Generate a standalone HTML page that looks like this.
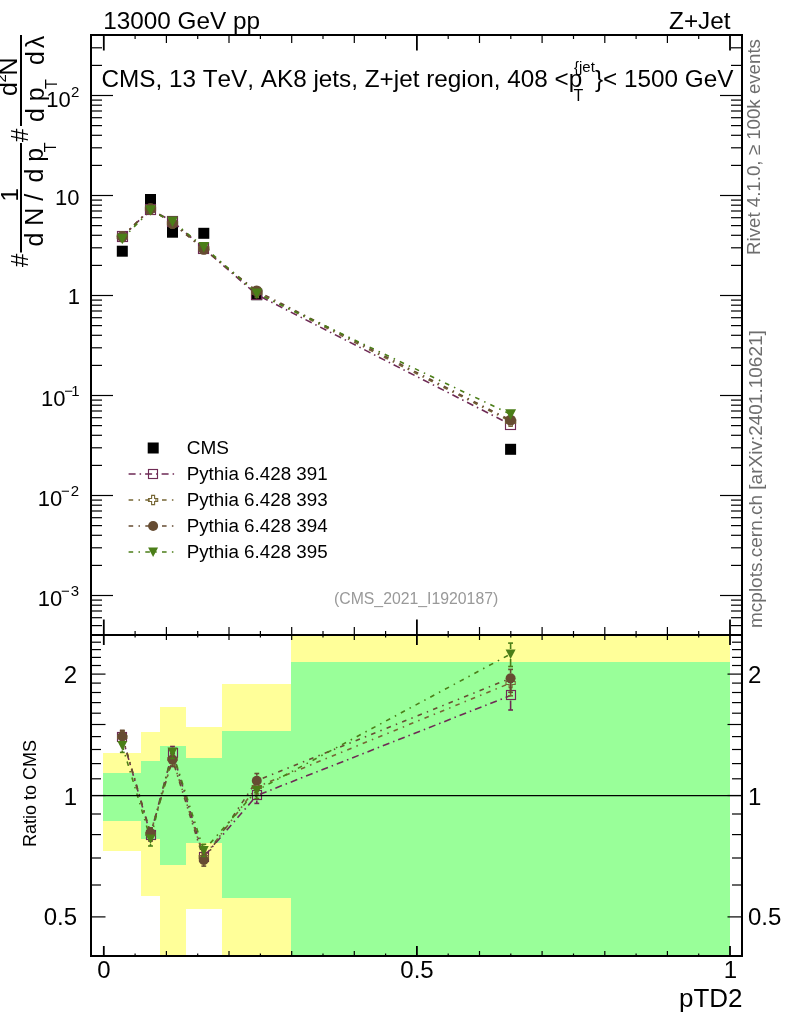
<!DOCTYPE html><html><head><meta charset="utf-8"><title>pTD2 Z+Jet</title>
<style>html,body{margin:0;padding:0;background:#fff;overflow:hidden}svg{display:block;will-change:transform}text{font-family:"Liberation Sans",Arial,Helvetica,sans-serif;font-kerning:none;fill:#000}</style></head><body>
<svg width="786" height="1024" viewBox="0 0 786 1024">
<rect x="0" y="0" width="786" height="1024" fill="#fff"/>
<rect x="103.0" y="753.0" width="38.0" height="98.0" fill="#ffff99" shape-rendering="crispEdges"/>
<rect x="141.0" y="732.0" width="19.0" height="164.0" fill="#ffff99" shape-rendering="crispEdges"/>
<rect x="160.0" y="707.0" width="26.0" height="249.0" fill="#ffff99" shape-rendering="crispEdges"/>
<rect x="186.0" y="727.0" width="36.0" height="182.0" fill="#ffff99" shape-rendering="crispEdges"/>
<rect x="222.0" y="684.0" width="69.0" height="272.0" fill="#ffff99" shape-rendering="crispEdges"/>
<rect x="291.0" y="635.0" width="439.0" height="321.0" fill="#ffff99" shape-rendering="crispEdges"/>
<rect x="103.0" y="773.0" width="38.0" height="48.0" fill="#99ff99" shape-rendering="crispEdges"/>
<rect x="141.0" y="761.0" width="19.0" height="78.0" fill="#99ff99" shape-rendering="crispEdges"/>
<rect x="160.0" y="746.0" width="26.0" height="119.0" fill="#99ff99" shape-rendering="crispEdges"/>
<rect x="186.0" y="758.0" width="36.0" height="85.0" fill="#99ff99" shape-rendering="crispEdges"/>
<rect x="222.0" y="731.0" width="69.0" height="167.0" fill="#99ff99" shape-rendering="crispEdges"/>
<rect x="291.0" y="662.0" width="439.0" height="294.0" fill="#99ff99" shape-rendering="crispEdges"/>
<line x1="103.8" y1="35.0" x2="103.8" y2="50.5" stroke="#000" stroke-width="1.8"/>
<line x1="103.8" y1="635.0" x2="103.8" y2="619.5" stroke="#000" stroke-width="1.8"/>
<line x1="103.8" y1="635.0" x2="103.8" y2="645.0" stroke="#000" stroke-width="1.8"/>
<line x1="103.8" y1="956.0" x2="103.8" y2="946.0" stroke="#000" stroke-width="1.8"/>
<line x1="135.1" y1="35.0" x2="135.1" y2="39.0" stroke="#000" stroke-width="1.2"/>
<line x1="135.1" y1="635.0" x2="135.1" y2="631.0" stroke="#000" stroke-width="1.2"/>
<line x1="135.1" y1="635.0" x2="135.1" y2="637.5" stroke="#000" stroke-width="1.2"/>
<line x1="135.1" y1="956.0" x2="135.1" y2="953.5" stroke="#000" stroke-width="1.2"/>
<line x1="166.4" y1="35.0" x2="166.4" y2="43.0" stroke="#000" stroke-width="1.2"/>
<line x1="166.4" y1="635.0" x2="166.4" y2="627.0" stroke="#000" stroke-width="1.2"/>
<line x1="166.4" y1="635.0" x2="166.4" y2="640.0" stroke="#000" stroke-width="1.2"/>
<line x1="166.4" y1="956.0" x2="166.4" y2="951.0" stroke="#000" stroke-width="1.2"/>
<line x1="197.7" y1="35.0" x2="197.7" y2="39.0" stroke="#000" stroke-width="1.2"/>
<line x1="197.7" y1="635.0" x2="197.7" y2="631.0" stroke="#000" stroke-width="1.2"/>
<line x1="197.7" y1="635.0" x2="197.7" y2="637.5" stroke="#000" stroke-width="1.2"/>
<line x1="197.7" y1="956.0" x2="197.7" y2="953.5" stroke="#000" stroke-width="1.2"/>
<line x1="229.0" y1="35.0" x2="229.0" y2="43.0" stroke="#000" stroke-width="1.2"/>
<line x1="229.0" y1="635.0" x2="229.0" y2="627.0" stroke="#000" stroke-width="1.2"/>
<line x1="229.0" y1="635.0" x2="229.0" y2="640.0" stroke="#000" stroke-width="1.2"/>
<line x1="229.0" y1="956.0" x2="229.0" y2="951.0" stroke="#000" stroke-width="1.2"/>
<line x1="260.4" y1="35.0" x2="260.4" y2="39.0" stroke="#000" stroke-width="1.2"/>
<line x1="260.4" y1="635.0" x2="260.4" y2="631.0" stroke="#000" stroke-width="1.2"/>
<line x1="260.4" y1="635.0" x2="260.4" y2="637.5" stroke="#000" stroke-width="1.2"/>
<line x1="260.4" y1="956.0" x2="260.4" y2="953.5" stroke="#000" stroke-width="1.2"/>
<line x1="291.7" y1="35.0" x2="291.7" y2="43.0" stroke="#000" stroke-width="1.2"/>
<line x1="291.7" y1="635.0" x2="291.7" y2="627.0" stroke="#000" stroke-width="1.2"/>
<line x1="291.7" y1="635.0" x2="291.7" y2="640.0" stroke="#000" stroke-width="1.2"/>
<line x1="291.7" y1="956.0" x2="291.7" y2="951.0" stroke="#000" stroke-width="1.2"/>
<line x1="323.0" y1="35.0" x2="323.0" y2="39.0" stroke="#000" stroke-width="1.2"/>
<line x1="323.0" y1="635.0" x2="323.0" y2="631.0" stroke="#000" stroke-width="1.2"/>
<line x1="323.0" y1="635.0" x2="323.0" y2="637.5" stroke="#000" stroke-width="1.2"/>
<line x1="323.0" y1="956.0" x2="323.0" y2="953.5" stroke="#000" stroke-width="1.2"/>
<line x1="354.3" y1="35.0" x2="354.3" y2="43.0" stroke="#000" stroke-width="1.2"/>
<line x1="354.3" y1="635.0" x2="354.3" y2="627.0" stroke="#000" stroke-width="1.2"/>
<line x1="354.3" y1="635.0" x2="354.3" y2="640.0" stroke="#000" stroke-width="1.2"/>
<line x1="354.3" y1="956.0" x2="354.3" y2="951.0" stroke="#000" stroke-width="1.2"/>
<line x1="385.6" y1="35.0" x2="385.6" y2="39.0" stroke="#000" stroke-width="1.2"/>
<line x1="385.6" y1="635.0" x2="385.6" y2="631.0" stroke="#000" stroke-width="1.2"/>
<line x1="385.6" y1="635.0" x2="385.6" y2="637.5" stroke="#000" stroke-width="1.2"/>
<line x1="385.6" y1="956.0" x2="385.6" y2="953.5" stroke="#000" stroke-width="1.2"/>
<line x1="416.9" y1="35.0" x2="416.9" y2="50.5" stroke="#000" stroke-width="1.8"/>
<line x1="416.9" y1="635.0" x2="416.9" y2="619.5" stroke="#000" stroke-width="1.8"/>
<line x1="416.9" y1="635.0" x2="416.9" y2="645.0" stroke="#000" stroke-width="1.8"/>
<line x1="416.9" y1="956.0" x2="416.9" y2="946.0" stroke="#000" stroke-width="1.8"/>
<line x1="448.2" y1="35.0" x2="448.2" y2="39.0" stroke="#000" stroke-width="1.2"/>
<line x1="448.2" y1="635.0" x2="448.2" y2="631.0" stroke="#000" stroke-width="1.2"/>
<line x1="448.2" y1="635.0" x2="448.2" y2="637.5" stroke="#000" stroke-width="1.2"/>
<line x1="448.2" y1="956.0" x2="448.2" y2="953.5" stroke="#000" stroke-width="1.2"/>
<line x1="479.5" y1="35.0" x2="479.5" y2="43.0" stroke="#000" stroke-width="1.2"/>
<line x1="479.5" y1="635.0" x2="479.5" y2="627.0" stroke="#000" stroke-width="1.2"/>
<line x1="479.5" y1="635.0" x2="479.5" y2="640.0" stroke="#000" stroke-width="1.2"/>
<line x1="479.5" y1="956.0" x2="479.5" y2="951.0" stroke="#000" stroke-width="1.2"/>
<line x1="510.8" y1="35.0" x2="510.8" y2="39.0" stroke="#000" stroke-width="1.2"/>
<line x1="510.8" y1="635.0" x2="510.8" y2="631.0" stroke="#000" stroke-width="1.2"/>
<line x1="510.8" y1="635.0" x2="510.8" y2="637.5" stroke="#000" stroke-width="1.2"/>
<line x1="510.8" y1="956.0" x2="510.8" y2="953.5" stroke="#000" stroke-width="1.2"/>
<line x1="542.1" y1="35.0" x2="542.1" y2="43.0" stroke="#000" stroke-width="1.2"/>
<line x1="542.1" y1="635.0" x2="542.1" y2="627.0" stroke="#000" stroke-width="1.2"/>
<line x1="542.1" y1="635.0" x2="542.1" y2="640.0" stroke="#000" stroke-width="1.2"/>
<line x1="542.1" y1="956.0" x2="542.1" y2="951.0" stroke="#000" stroke-width="1.2"/>
<line x1="573.5" y1="35.0" x2="573.5" y2="39.0" stroke="#000" stroke-width="1.2"/>
<line x1="573.5" y1="635.0" x2="573.5" y2="631.0" stroke="#000" stroke-width="1.2"/>
<line x1="573.5" y1="635.0" x2="573.5" y2="637.5" stroke="#000" stroke-width="1.2"/>
<line x1="573.5" y1="956.0" x2="573.5" y2="953.5" stroke="#000" stroke-width="1.2"/>
<line x1="604.8" y1="35.0" x2="604.8" y2="43.0" stroke="#000" stroke-width="1.2"/>
<line x1="604.8" y1="635.0" x2="604.8" y2="627.0" stroke="#000" stroke-width="1.2"/>
<line x1="604.8" y1="635.0" x2="604.8" y2="640.0" stroke="#000" stroke-width="1.2"/>
<line x1="604.8" y1="956.0" x2="604.8" y2="951.0" stroke="#000" stroke-width="1.2"/>
<line x1="636.1" y1="35.0" x2="636.1" y2="39.0" stroke="#000" stroke-width="1.2"/>
<line x1="636.1" y1="635.0" x2="636.1" y2="631.0" stroke="#000" stroke-width="1.2"/>
<line x1="636.1" y1="635.0" x2="636.1" y2="637.5" stroke="#000" stroke-width="1.2"/>
<line x1="636.1" y1="956.0" x2="636.1" y2="953.5" stroke="#000" stroke-width="1.2"/>
<line x1="667.4" y1="35.0" x2="667.4" y2="43.0" stroke="#000" stroke-width="1.2"/>
<line x1="667.4" y1="635.0" x2="667.4" y2="627.0" stroke="#000" stroke-width="1.2"/>
<line x1="667.4" y1="635.0" x2="667.4" y2="640.0" stroke="#000" stroke-width="1.2"/>
<line x1="667.4" y1="956.0" x2="667.4" y2="951.0" stroke="#000" stroke-width="1.2"/>
<line x1="698.7" y1="35.0" x2="698.7" y2="39.0" stroke="#000" stroke-width="1.2"/>
<line x1="698.7" y1="635.0" x2="698.7" y2="631.0" stroke="#000" stroke-width="1.2"/>
<line x1="698.7" y1="635.0" x2="698.7" y2="637.5" stroke="#000" stroke-width="1.2"/>
<line x1="698.7" y1="956.0" x2="698.7" y2="953.5" stroke="#000" stroke-width="1.2"/>
<line x1="730.0" y1="35.0" x2="730.0" y2="50.5" stroke="#000" stroke-width="1.8"/>
<line x1="730.0" y1="635.0" x2="730.0" y2="619.5" stroke="#000" stroke-width="1.8"/>
<line x1="730.0" y1="635.0" x2="730.0" y2="645.0" stroke="#000" stroke-width="1.8"/>
<line x1="730.0" y1="956.0" x2="730.0" y2="946.0" stroke="#000" stroke-width="1.8"/>
<line x1="91.0" y1="625.6" x2="102.0" y2="625.6" stroke="#000" stroke-width="1.2"/>
<line x1="742.0" y1="625.6" x2="731.0" y2="625.6" stroke="#000" stroke-width="1.2"/>
<line x1="91.0" y1="617.7" x2="102.0" y2="617.7" stroke="#000" stroke-width="1.2"/>
<line x1="742.0" y1="617.7" x2="731.0" y2="617.7" stroke="#000" stroke-width="1.2"/>
<line x1="91.0" y1="611.0" x2="102.0" y2="611.0" stroke="#000" stroke-width="1.2"/>
<line x1="742.0" y1="611.0" x2="731.0" y2="611.0" stroke="#000" stroke-width="1.2"/>
<line x1="91.0" y1="605.2" x2="102.0" y2="605.2" stroke="#000" stroke-width="1.2"/>
<line x1="742.0" y1="605.2" x2="731.0" y2="605.2" stroke="#000" stroke-width="1.2"/>
<line x1="91.0" y1="600.1" x2="102.0" y2="600.1" stroke="#000" stroke-width="1.2"/>
<line x1="742.0" y1="600.1" x2="731.0" y2="600.1" stroke="#000" stroke-width="1.2"/>
<line x1="91.0" y1="595.5" x2="113.0" y2="595.5" stroke="#000" stroke-width="1.2"/>
<line x1="742.0" y1="595.5" x2="720.0" y2="595.5" stroke="#000" stroke-width="1.2"/>
<line x1="91.0" y1="565.4" x2="102.0" y2="565.4" stroke="#000" stroke-width="1.2"/>
<line x1="742.0" y1="565.4" x2="731.0" y2="565.4" stroke="#000" stroke-width="1.2"/>
<line x1="91.0" y1="547.8" x2="102.0" y2="547.8" stroke="#000" stroke-width="1.2"/>
<line x1="742.0" y1="547.8" x2="731.0" y2="547.8" stroke="#000" stroke-width="1.2"/>
<line x1="91.0" y1="535.3" x2="102.0" y2="535.3" stroke="#000" stroke-width="1.2"/>
<line x1="742.0" y1="535.3" x2="731.0" y2="535.3" stroke="#000" stroke-width="1.2"/>
<line x1="91.0" y1="525.6" x2="102.0" y2="525.6" stroke="#000" stroke-width="1.2"/>
<line x1="742.0" y1="525.6" x2="731.0" y2="525.6" stroke="#000" stroke-width="1.2"/>
<line x1="91.0" y1="517.7" x2="102.0" y2="517.7" stroke="#000" stroke-width="1.2"/>
<line x1="742.0" y1="517.7" x2="731.0" y2="517.7" stroke="#000" stroke-width="1.2"/>
<line x1="91.0" y1="511.0" x2="102.0" y2="511.0" stroke="#000" stroke-width="1.2"/>
<line x1="742.0" y1="511.0" x2="731.0" y2="511.0" stroke="#000" stroke-width="1.2"/>
<line x1="91.0" y1="505.2" x2="102.0" y2="505.2" stroke="#000" stroke-width="1.2"/>
<line x1="742.0" y1="505.2" x2="731.0" y2="505.2" stroke="#000" stroke-width="1.2"/>
<line x1="91.0" y1="500.1" x2="102.0" y2="500.1" stroke="#000" stroke-width="1.2"/>
<line x1="742.0" y1="500.1" x2="731.0" y2="500.1" stroke="#000" stroke-width="1.2"/>
<line x1="91.0" y1="495.5" x2="113.0" y2="495.5" stroke="#000" stroke-width="1.2"/>
<line x1="742.0" y1="495.5" x2="720.0" y2="495.5" stroke="#000" stroke-width="1.2"/>
<line x1="91.0" y1="465.4" x2="102.0" y2="465.4" stroke="#000" stroke-width="1.2"/>
<line x1="742.0" y1="465.4" x2="731.0" y2="465.4" stroke="#000" stroke-width="1.2"/>
<line x1="91.0" y1="447.8" x2="102.0" y2="447.8" stroke="#000" stroke-width="1.2"/>
<line x1="742.0" y1="447.8" x2="731.0" y2="447.8" stroke="#000" stroke-width="1.2"/>
<line x1="91.0" y1="435.3" x2="102.0" y2="435.3" stroke="#000" stroke-width="1.2"/>
<line x1="742.0" y1="435.3" x2="731.0" y2="435.3" stroke="#000" stroke-width="1.2"/>
<line x1="91.0" y1="425.6" x2="102.0" y2="425.6" stroke="#000" stroke-width="1.2"/>
<line x1="742.0" y1="425.6" x2="731.0" y2="425.6" stroke="#000" stroke-width="1.2"/>
<line x1="91.0" y1="417.7" x2="102.0" y2="417.7" stroke="#000" stroke-width="1.2"/>
<line x1="742.0" y1="417.7" x2="731.0" y2="417.7" stroke="#000" stroke-width="1.2"/>
<line x1="91.0" y1="411.0" x2="102.0" y2="411.0" stroke="#000" stroke-width="1.2"/>
<line x1="742.0" y1="411.0" x2="731.0" y2="411.0" stroke="#000" stroke-width="1.2"/>
<line x1="91.0" y1="405.2" x2="102.0" y2="405.2" stroke="#000" stroke-width="1.2"/>
<line x1="742.0" y1="405.2" x2="731.0" y2="405.2" stroke="#000" stroke-width="1.2"/>
<line x1="91.0" y1="400.1" x2="102.0" y2="400.1" stroke="#000" stroke-width="1.2"/>
<line x1="742.0" y1="400.1" x2="731.0" y2="400.1" stroke="#000" stroke-width="1.2"/>
<line x1="91.0" y1="395.5" x2="113.0" y2="395.5" stroke="#000" stroke-width="1.2"/>
<line x1="742.0" y1="395.5" x2="720.0" y2="395.5" stroke="#000" stroke-width="1.2"/>
<line x1="91.0" y1="365.4" x2="102.0" y2="365.4" stroke="#000" stroke-width="1.2"/>
<line x1="742.0" y1="365.4" x2="731.0" y2="365.4" stroke="#000" stroke-width="1.2"/>
<line x1="91.0" y1="347.8" x2="102.0" y2="347.8" stroke="#000" stroke-width="1.2"/>
<line x1="742.0" y1="347.8" x2="731.0" y2="347.8" stroke="#000" stroke-width="1.2"/>
<line x1="91.0" y1="335.3" x2="102.0" y2="335.3" stroke="#000" stroke-width="1.2"/>
<line x1="742.0" y1="335.3" x2="731.0" y2="335.3" stroke="#000" stroke-width="1.2"/>
<line x1="91.0" y1="325.6" x2="102.0" y2="325.6" stroke="#000" stroke-width="1.2"/>
<line x1="742.0" y1="325.6" x2="731.0" y2="325.6" stroke="#000" stroke-width="1.2"/>
<line x1="91.0" y1="317.7" x2="102.0" y2="317.7" stroke="#000" stroke-width="1.2"/>
<line x1="742.0" y1="317.7" x2="731.0" y2="317.7" stroke="#000" stroke-width="1.2"/>
<line x1="91.0" y1="311.0" x2="102.0" y2="311.0" stroke="#000" stroke-width="1.2"/>
<line x1="742.0" y1="311.0" x2="731.0" y2="311.0" stroke="#000" stroke-width="1.2"/>
<line x1="91.0" y1="305.2" x2="102.0" y2="305.2" stroke="#000" stroke-width="1.2"/>
<line x1="742.0" y1="305.2" x2="731.0" y2="305.2" stroke="#000" stroke-width="1.2"/>
<line x1="91.0" y1="300.1" x2="102.0" y2="300.1" stroke="#000" stroke-width="1.2"/>
<line x1="742.0" y1="300.1" x2="731.0" y2="300.1" stroke="#000" stroke-width="1.2"/>
<line x1="91.0" y1="295.5" x2="113.0" y2="295.5" stroke="#000" stroke-width="1.2"/>
<line x1="742.0" y1="295.5" x2="720.0" y2="295.5" stroke="#000" stroke-width="1.2"/>
<line x1="91.0" y1="265.4" x2="102.0" y2="265.4" stroke="#000" stroke-width="1.2"/>
<line x1="742.0" y1="265.4" x2="731.0" y2="265.4" stroke="#000" stroke-width="1.2"/>
<line x1="91.0" y1="247.8" x2="102.0" y2="247.8" stroke="#000" stroke-width="1.2"/>
<line x1="742.0" y1="247.8" x2="731.0" y2="247.8" stroke="#000" stroke-width="1.2"/>
<line x1="91.0" y1="235.3" x2="102.0" y2="235.3" stroke="#000" stroke-width="1.2"/>
<line x1="742.0" y1="235.3" x2="731.0" y2="235.3" stroke="#000" stroke-width="1.2"/>
<line x1="91.0" y1="225.6" x2="102.0" y2="225.6" stroke="#000" stroke-width="1.2"/>
<line x1="742.0" y1="225.6" x2="731.0" y2="225.6" stroke="#000" stroke-width="1.2"/>
<line x1="91.0" y1="217.7" x2="102.0" y2="217.7" stroke="#000" stroke-width="1.2"/>
<line x1="742.0" y1="217.7" x2="731.0" y2="217.7" stroke="#000" stroke-width="1.2"/>
<line x1="91.0" y1="211.0" x2="102.0" y2="211.0" stroke="#000" stroke-width="1.2"/>
<line x1="742.0" y1="211.0" x2="731.0" y2="211.0" stroke="#000" stroke-width="1.2"/>
<line x1="91.0" y1="205.2" x2="102.0" y2="205.2" stroke="#000" stroke-width="1.2"/>
<line x1="742.0" y1="205.2" x2="731.0" y2="205.2" stroke="#000" stroke-width="1.2"/>
<line x1="91.0" y1="200.1" x2="102.0" y2="200.1" stroke="#000" stroke-width="1.2"/>
<line x1="742.0" y1="200.1" x2="731.0" y2="200.1" stroke="#000" stroke-width="1.2"/>
<line x1="91.0" y1="195.5" x2="113.0" y2="195.5" stroke="#000" stroke-width="1.2"/>
<line x1="742.0" y1="195.5" x2="720.0" y2="195.5" stroke="#000" stroke-width="1.2"/>
<line x1="91.0" y1="165.4" x2="102.0" y2="165.4" stroke="#000" stroke-width="1.2"/>
<line x1="742.0" y1="165.4" x2="731.0" y2="165.4" stroke="#000" stroke-width="1.2"/>
<line x1="91.0" y1="147.8" x2="102.0" y2="147.8" stroke="#000" stroke-width="1.2"/>
<line x1="742.0" y1="147.8" x2="731.0" y2="147.8" stroke="#000" stroke-width="1.2"/>
<line x1="91.0" y1="135.3" x2="102.0" y2="135.3" stroke="#000" stroke-width="1.2"/>
<line x1="742.0" y1="135.3" x2="731.0" y2="135.3" stroke="#000" stroke-width="1.2"/>
<line x1="91.0" y1="125.6" x2="102.0" y2="125.6" stroke="#000" stroke-width="1.2"/>
<line x1="742.0" y1="125.6" x2="731.0" y2="125.6" stroke="#000" stroke-width="1.2"/>
<line x1="91.0" y1="117.7" x2="102.0" y2="117.7" stroke="#000" stroke-width="1.2"/>
<line x1="742.0" y1="117.7" x2="731.0" y2="117.7" stroke="#000" stroke-width="1.2"/>
<line x1="91.0" y1="111.0" x2="102.0" y2="111.0" stroke="#000" stroke-width="1.2"/>
<line x1="742.0" y1="111.0" x2="731.0" y2="111.0" stroke="#000" stroke-width="1.2"/>
<line x1="91.0" y1="105.2" x2="102.0" y2="105.2" stroke="#000" stroke-width="1.2"/>
<line x1="742.0" y1="105.2" x2="731.0" y2="105.2" stroke="#000" stroke-width="1.2"/>
<line x1="91.0" y1="100.1" x2="102.0" y2="100.1" stroke="#000" stroke-width="1.2"/>
<line x1="742.0" y1="100.1" x2="731.0" y2="100.1" stroke="#000" stroke-width="1.2"/>
<line x1="91.0" y1="95.5" x2="113.0" y2="95.5" stroke="#000" stroke-width="1.2"/>
<line x1="742.0" y1="95.5" x2="720.0" y2="95.5" stroke="#000" stroke-width="1.2"/>
<line x1="91.0" y1="65.4" x2="102.0" y2="65.4" stroke="#000" stroke-width="1.2"/>
<line x1="742.0" y1="65.4" x2="731.0" y2="65.4" stroke="#000" stroke-width="1.2"/>
<line x1="91.0" y1="47.8" x2="102.0" y2="47.8" stroke="#000" stroke-width="1.2"/>
<line x1="742.0" y1="47.8" x2="731.0" y2="47.8" stroke="#000" stroke-width="1.2"/>
<line x1="91.0" y1="916.9" x2="105.5" y2="916.9" stroke="#000" stroke-width="1.2"/>
<line x1="742.0" y1="916.9" x2="727.5" y2="916.9" stroke="#000" stroke-width="1.2"/>
<line x1="91.0" y1="885.0" x2="101.0" y2="885.0" stroke="#000" stroke-width="1.2"/>
<line x1="742.0" y1="885.0" x2="732.0" y2="885.0" stroke="#000" stroke-width="1.2"/>
<line x1="91.0" y1="858.0" x2="101.0" y2="858.0" stroke="#000" stroke-width="1.2"/>
<line x1="742.0" y1="858.0" x2="732.0" y2="858.0" stroke="#000" stroke-width="1.2"/>
<line x1="91.0" y1="834.6" x2="101.0" y2="834.6" stroke="#000" stroke-width="1.2"/>
<line x1="742.0" y1="834.6" x2="732.0" y2="834.6" stroke="#000" stroke-width="1.2"/>
<line x1="91.0" y1="814.0" x2="101.0" y2="814.0" stroke="#000" stroke-width="1.2"/>
<line x1="742.0" y1="814.0" x2="732.0" y2="814.0" stroke="#000" stroke-width="1.2"/>
<line x1="91.0" y1="795.5" x2="105.5" y2="795.5" stroke="#000" stroke-width="1.2"/>
<line x1="742.0" y1="795.5" x2="727.5" y2="795.5" stroke="#000" stroke-width="1.2"/>
<line x1="91.0" y1="778.8" x2="101.0" y2="778.8" stroke="#000" stroke-width="1.2"/>
<line x1="742.0" y1="778.8" x2="732.0" y2="778.8" stroke="#000" stroke-width="1.2"/>
<line x1="91.0" y1="763.6" x2="101.0" y2="763.6" stroke="#000" stroke-width="1.2"/>
<line x1="742.0" y1="763.6" x2="732.0" y2="763.6" stroke="#000" stroke-width="1.2"/>
<line x1="91.0" y1="749.5" x2="101.0" y2="749.5" stroke="#000" stroke-width="1.2"/>
<line x1="742.0" y1="749.5" x2="732.0" y2="749.5" stroke="#000" stroke-width="1.2"/>
<line x1="91.0" y1="736.6" x2="101.0" y2="736.6" stroke="#000" stroke-width="1.2"/>
<line x1="742.0" y1="736.6" x2="732.0" y2="736.6" stroke="#000" stroke-width="1.2"/>
<line x1="91.0" y1="724.5" x2="105.5" y2="724.5" stroke="#000" stroke-width="1.2"/>
<line x1="742.0" y1="724.5" x2="727.5" y2="724.5" stroke="#000" stroke-width="1.2"/>
<line x1="91.0" y1="713.2" x2="101.0" y2="713.2" stroke="#000" stroke-width="1.2"/>
<line x1="742.0" y1="713.2" x2="732.0" y2="713.2" stroke="#000" stroke-width="1.2"/>
<line x1="91.0" y1="702.6" x2="101.0" y2="702.6" stroke="#000" stroke-width="1.2"/>
<line x1="742.0" y1="702.6" x2="732.0" y2="702.6" stroke="#000" stroke-width="1.2"/>
<line x1="91.0" y1="692.5" x2="101.0" y2="692.5" stroke="#000" stroke-width="1.2"/>
<line x1="742.0" y1="692.5" x2="732.0" y2="692.5" stroke="#000" stroke-width="1.2"/>
<line x1="91.0" y1="683.1" x2="101.0" y2="683.1" stroke="#000" stroke-width="1.2"/>
<line x1="742.0" y1="683.1" x2="732.0" y2="683.1" stroke="#000" stroke-width="1.2"/>
<line x1="91.0" y1="674.1" x2="105.5" y2="674.1" stroke="#000" stroke-width="1.2"/>
<line x1="742.0" y1="674.1" x2="727.5" y2="674.1" stroke="#000" stroke-width="1.2"/>
<line x1="91.0" y1="665.5" x2="101.0" y2="665.5" stroke="#000" stroke-width="1.2"/>
<line x1="742.0" y1="665.5" x2="732.0" y2="665.5" stroke="#000" stroke-width="1.2"/>
<line x1="91.0" y1="657.4" x2="101.0" y2="657.4" stroke="#000" stroke-width="1.2"/>
<line x1="742.0" y1="657.4" x2="732.0" y2="657.4" stroke="#000" stroke-width="1.2"/>
<line x1="91.0" y1="649.6" x2="101.0" y2="649.6" stroke="#000" stroke-width="1.2"/>
<line x1="742.0" y1="649.6" x2="732.0" y2="649.6" stroke="#000" stroke-width="1.2"/>
<line x1="91.0" y1="642.2" x2="101.0" y2="642.2" stroke="#000" stroke-width="1.2"/>
<line x1="742.0" y1="642.2" x2="732.0" y2="642.2" stroke="#000" stroke-width="1.2"/>
<rect x="91.0" y="35.0" width="651.0" height="600.0" fill="none" stroke="#000" stroke-width="2"/>
<rect x="91.0" y="635.0" width="651.0" height="321.0" fill="none" stroke="#000" stroke-width="2"/>
<rect x="116.8" y="245.7" width="11" height="11" fill="#000"/>
<rect x="145.0" y="194.0" width="11" height="11" fill="#000"/>
<rect x="167.0" y="226.7" width="11" height="11" fill="#000"/>
<rect x="198.3" y="227.8" width="11" height="11" fill="#000"/>
<rect x="251.3" y="289.2" width="11" height="11" fill="#000"/>
<rect x="505.1" y="443.8" width="11" height="11" fill="#000"/>
<polyline points="122.3,236.8 150.5,209.2 172.5,221.5 203.8,248.5 256.8,294.7 510.6,424.5" fill="none" stroke="#6e2a55" stroke-width="1.6" stroke-dasharray="7 4 1.5 4"/>
<polyline points="122.3,236.7 150.5,209.0 172.5,223.1 203.8,248.5 256.8,292.6 510.6,421.4" fill="none" stroke="#766634" stroke-width="1.6" stroke-dasharray="4.6 5.3 1.5 5.3"/>
<polyline points="122.3,236.6 150.5,208.8 172.5,223.3 203.8,249.3 256.8,291.0 510.6,420.2" fill="none" stroke="#664c32" stroke-width="1.6" stroke-dasharray="4.6 5.3 1.5 5.3"/>
<polyline points="122.3,238.8 150.5,210.3 172.5,221.4 203.8,246.9 256.8,293.4 510.6,414.2" fill="none" stroke="#4b7e18" stroke-width="1.6" stroke-dasharray="4.6 5.3 1.5 5.3"/>
<rect x="117.5" y="231.5" width="10" height="10" fill="none" stroke="#6e2a55" stroke-width="1.15"/>
<rect x="145.5" y="204.5" width="10" height="10" fill="none" stroke="#6e2a55" stroke-width="1.15"/>
<rect x="167.5" y="216.5" width="10" height="10" fill="none" stroke="#6e2a55" stroke-width="1.15"/>
<rect x="198.5" y="243.5" width="10" height="10" fill="none" stroke="#6e2a55" stroke-width="1.15"/>
<rect x="251.5" y="289.5" width="10" height="10" fill="none" stroke="#6e2a55" stroke-width="1.15"/>
<rect x="505.5" y="419.5" width="10" height="10" fill="none" stroke="#6e2a55" stroke-width="1.15"/>
<polygon points="120.6,231.6 124.0,231.6 124.0,235.0 127.4,235.0 127.4,238.4 124.0,238.4 124.0,241.8 120.6,241.8 120.6,238.4 117.2,238.4 117.2,235.0 120.6,235.0" fill="none" stroke="#766634" stroke-width="1.1"/>
<polygon points="148.8,204.0 152.2,204.0 152.2,207.4 155.6,207.4 155.6,210.7 152.2,210.7 152.2,214.1 148.8,214.1 148.8,210.7 145.4,210.7 145.4,207.4 148.8,207.4" fill="none" stroke="#766634" stroke-width="1.1"/>
<polygon points="170.8,218.1 174.2,218.1 174.2,221.5 177.6,221.5 177.6,224.8 174.2,224.8 174.2,228.2 170.8,228.2 170.8,224.8 167.4,224.8 167.4,221.5 170.8,221.5" fill="none" stroke="#766634" stroke-width="1.1"/>
<polygon points="202.1,243.5 205.5,243.5 205.5,246.9 208.9,246.9 208.9,250.2 205.5,250.2 205.5,253.6 202.1,253.6 202.1,250.2 198.7,250.2 198.7,246.9 202.1,246.9" fill="none" stroke="#766634" stroke-width="1.1"/>
<polygon points="255.1,287.5 258.5,287.5 258.5,290.9 261.9,290.9 261.9,294.3 258.5,294.3 258.5,297.7 255.1,297.7 255.1,294.3 251.7,294.3 251.7,290.9 255.1,290.9" fill="none" stroke="#766634" stroke-width="1.1"/>
<polygon points="508.9,416.3 512.3,416.3 512.3,419.7 515.7,419.7 515.7,423.1 512.3,423.1 512.3,426.5 508.9,426.5 508.9,423.1 505.5,423.1 505.5,419.7 508.9,419.7" fill="none" stroke="#766634" stroke-width="1.1"/>
<circle cx="122.3" cy="236.6" r="5.5" fill="#664c32"/>
<circle cx="150.5" cy="208.8" r="5.5" fill="#664c32"/>
<circle cx="172.5" cy="223.3" r="5.5" fill="#664c32"/>
<circle cx="203.8" cy="249.3" r="5.5" fill="#664c32"/>
<circle cx="256.8" cy="291.0" r="5.5" fill="#664c32"/>
<circle cx="510.6" cy="420.2" r="5.5" fill="#664c32"/>
<polygon points="116.8,233.8 127.8,233.8 122.3,244.3" fill="#4b7e18"/>
<polygon points="145.0,205.3 156.0,205.3 150.5,215.8" fill="#4b7e18"/>
<polygon points="167.0,216.4 178.0,216.4 172.5,226.9" fill="#4b7e18"/>
<polygon points="198.3,241.9 209.3,241.9 203.8,252.4" fill="#4b7e18"/>
<polygon points="251.3,288.4 262.3,288.4 256.8,298.9" fill="#4b7e18"/>
<polygon points="505.1,409.2 516.1,409.2 510.6,419.7" fill="#4b7e18"/>
<polyline points="122.3,737.3 150.5,834.5 172.5,752.5 203.8,856.8 256.8,795.5 510.6,695.5" fill="none" stroke="#6e2a55" stroke-width="1.6" stroke-dasharray="7 4 1.5 4"/>
<polyline points="122.3,737.0 150.5,834.0 172.5,759.0 203.8,857.0 256.8,787.0 510.6,683.0" fill="none" stroke="#766634" stroke-width="1.6" stroke-dasharray="4.6 5.3 1.5 5.3"/>
<polyline points="122.3,736.5 150.5,833.0 172.5,759.6 203.8,860.0 256.8,780.7 510.6,678.3" fill="none" stroke="#664c32" stroke-width="1.6" stroke-dasharray="4.6 5.3 1.5 5.3"/>
<polyline points="122.3,745.5 150.5,839.0 172.5,752.0 203.8,850.5 256.8,790.4 510.6,654.0" fill="none" stroke="#4b7e18" stroke-width="1.6" stroke-dasharray="4.6 5.3 1.5 5.3"/>
<line x1="122.3" y1="731.3" x2="122.3" y2="732.3" stroke="#6e2a55" stroke-width="1.6"/>
<line x1="122.3" y1="742.3" x2="122.3" y2="743.8" stroke="#6e2a55" stroke-width="1.6"/>
<line x1="119.9" y1="731.3" x2="124.7" y2="731.3" stroke="#6e2a55" stroke-width="1.6"/>
<line x1="119.9" y1="743.8" x2="124.7" y2="743.8" stroke="#6e2a55" stroke-width="1.6"/>
<rect x="117.5" y="732.5" width="9" height="9" fill="none" stroke="#6e2a55" stroke-width="1.15"/>
<line x1="150.5" y1="828.5" x2="150.5" y2="829.5" stroke="#6e2a55" stroke-width="1.6"/>
<line x1="150.5" y1="839.5" x2="150.5" y2="841.0" stroke="#6e2a55" stroke-width="1.6"/>
<line x1="148.1" y1="828.5" x2="152.9" y2="828.5" stroke="#6e2a55" stroke-width="1.6"/>
<line x1="148.1" y1="841.0" x2="152.9" y2="841.0" stroke="#6e2a55" stroke-width="1.6"/>
<rect x="146.5" y="830.5" width="9" height="9" fill="none" stroke="#6e2a55" stroke-width="1.15"/>
<line x1="172.5" y1="746.5" x2="172.5" y2="747.5" stroke="#6e2a55" stroke-width="1.6"/>
<line x1="172.5" y1="757.5" x2="172.5" y2="759.0" stroke="#6e2a55" stroke-width="1.6"/>
<line x1="170.1" y1="746.5" x2="174.9" y2="746.5" stroke="#6e2a55" stroke-width="1.6"/>
<line x1="170.1" y1="759.0" x2="174.9" y2="759.0" stroke="#6e2a55" stroke-width="1.6"/>
<rect x="168.5" y="748.5" width="9" height="9" fill="none" stroke="#6e2a55" stroke-width="1.15"/>
<line x1="203.8" y1="850.8" x2="203.8" y2="851.8" stroke="#6e2a55" stroke-width="1.6"/>
<line x1="203.8" y1="861.8" x2="203.8" y2="863.3" stroke="#6e2a55" stroke-width="1.6"/>
<line x1="201.4" y1="850.8" x2="206.2" y2="850.8" stroke="#6e2a55" stroke-width="1.6"/>
<line x1="201.4" y1="863.3" x2="206.2" y2="863.3" stroke="#6e2a55" stroke-width="1.6"/>
<rect x="199.5" y="852.5" width="9" height="9" fill="none" stroke="#6e2a55" stroke-width="1.15"/>
<line x1="256.8" y1="789.5" x2="256.8" y2="790.5" stroke="#6e2a55" stroke-width="1.6"/>
<line x1="256.8" y1="800.5" x2="256.8" y2="803.4" stroke="#6e2a55" stroke-width="1.6"/>
<line x1="254.4" y1="789.5" x2="259.2" y2="789.5" stroke="#6e2a55" stroke-width="1.6"/>
<line x1="254.4" y1="803.4" x2="259.2" y2="803.4" stroke="#6e2a55" stroke-width="1.6"/>
<rect x="252.5" y="790.5" width="9" height="9" fill="none" stroke="#6e2a55" stroke-width="1.15"/>
<line x1="510.6" y1="682.1" x2="510.6" y2="690.5" stroke="#6e2a55" stroke-width="1.6"/>
<line x1="510.6" y1="700.5" x2="510.6" y2="710.0" stroke="#6e2a55" stroke-width="1.6"/>
<line x1="508.2" y1="682.1" x2="513.0" y2="682.1" stroke="#6e2a55" stroke-width="1.6"/>
<line x1="508.2" y1="710.0" x2="513.0" y2="710.0" stroke="#6e2a55" stroke-width="1.6"/>
<rect x="506.5" y="690.5" width="9" height="9" fill="none" stroke="#6e2a55" stroke-width="1.15"/>
<line x1="122.3" y1="731.0" x2="122.3" y2="732.0" stroke="#766634" stroke-width="1.6"/>
<line x1="122.3" y1="742.0" x2="122.3" y2="743.5" stroke="#766634" stroke-width="1.6"/>
<line x1="119.9" y1="731.0" x2="124.7" y2="731.0" stroke="#766634" stroke-width="1.6"/>
<line x1="119.9" y1="743.5" x2="124.7" y2="743.5" stroke="#766634" stroke-width="1.6"/>
<polygon points="120.8,732.4 123.8,732.4 123.8,735.5 126.9,735.5 126.9,738.5 123.8,738.5 123.8,741.6 120.8,741.6 120.8,738.5 117.7,738.5 117.7,735.5 120.8,735.5" fill="none" stroke="#766634" stroke-width="1.1"/>
<line x1="150.5" y1="828.0" x2="150.5" y2="829.0" stroke="#766634" stroke-width="1.6"/>
<line x1="150.5" y1="839.0" x2="150.5" y2="840.5" stroke="#766634" stroke-width="1.6"/>
<line x1="148.1" y1="828.0" x2="152.9" y2="828.0" stroke="#766634" stroke-width="1.6"/>
<line x1="148.1" y1="840.5" x2="152.9" y2="840.5" stroke="#766634" stroke-width="1.6"/>
<polygon points="149.0,829.4 152.0,829.4 152.0,832.5 155.1,832.5 155.1,835.5 152.0,835.5 152.0,838.6 149.0,838.6 149.0,835.5 145.9,835.5 145.9,832.5 149.0,832.5" fill="none" stroke="#766634" stroke-width="1.1"/>
<line x1="172.5" y1="753.0" x2="172.5" y2="754.0" stroke="#766634" stroke-width="1.6"/>
<line x1="172.5" y1="764.0" x2="172.5" y2="766.0" stroke="#766634" stroke-width="1.6"/>
<line x1="170.1" y1="753.0" x2="174.9" y2="753.0" stroke="#766634" stroke-width="1.6"/>
<line x1="170.1" y1="766.0" x2="174.9" y2="766.0" stroke="#766634" stroke-width="1.6"/>
<polygon points="171.0,754.4 174.0,754.4 174.0,757.5 177.1,757.5 177.1,760.5 174.0,760.5 174.0,763.6 171.0,763.6 171.0,760.5 167.9,760.5 167.9,757.5 171.0,757.5" fill="none" stroke="#766634" stroke-width="1.1"/>
<line x1="203.8" y1="851.0" x2="203.8" y2="852.0" stroke="#766634" stroke-width="1.6"/>
<line x1="203.8" y1="862.0" x2="203.8" y2="863.5" stroke="#766634" stroke-width="1.6"/>
<line x1="201.4" y1="851.0" x2="206.2" y2="851.0" stroke="#766634" stroke-width="1.6"/>
<line x1="201.4" y1="863.5" x2="206.2" y2="863.5" stroke="#766634" stroke-width="1.6"/>
<polygon points="202.3,852.4 205.3,852.4 205.3,855.5 208.4,855.5 208.4,858.5 205.3,858.5 205.3,861.6 202.3,861.6 202.3,858.5 199.2,858.5 199.2,855.5 202.3,855.5" fill="none" stroke="#766634" stroke-width="1.1"/>
<line x1="256.8" y1="781.0" x2="256.8" y2="782.0" stroke="#766634" stroke-width="1.6"/>
<line x1="256.8" y1="792.0" x2="256.8" y2="794.0" stroke="#766634" stroke-width="1.6"/>
<line x1="254.4" y1="781.0" x2="259.2" y2="781.0" stroke="#766634" stroke-width="1.6"/>
<line x1="254.4" y1="794.0" x2="259.2" y2="794.0" stroke="#766634" stroke-width="1.6"/>
<polygon points="255.3,782.4 258.3,782.4 258.3,785.5 261.4,785.5 261.4,788.5 258.3,788.5 258.3,791.6 255.3,791.6 255.3,788.5 252.2,788.5 252.2,785.5 255.3,785.5" fill="none" stroke="#766634" stroke-width="1.1"/>
<line x1="510.6" y1="676.0" x2="510.6" y2="678.0" stroke="#766634" stroke-width="1.6"/>
<line x1="510.6" y1="688.0" x2="510.6" y2="695.8" stroke="#766634" stroke-width="1.6"/>
<line x1="508.2" y1="676.0" x2="513.0" y2="676.0" stroke="#766634" stroke-width="1.6"/>
<line x1="508.2" y1="695.8" x2="513.0" y2="695.8" stroke="#766634" stroke-width="1.6"/>
<polygon points="509.1,678.4 512.1,678.4 512.1,681.5 515.2,681.5 515.2,684.5 512.1,684.5 512.1,687.6 509.1,687.6 509.1,684.5 506.0,684.5 506.0,681.5 509.1,681.5" fill="none" stroke="#766634" stroke-width="1.1"/>
<line x1="122.3" y1="730.3" x2="122.3" y2="731.5" stroke="#664c32" stroke-width="1.6"/>
<line x1="122.3" y1="741.5" x2="122.3" y2="743.0" stroke="#664c32" stroke-width="1.6"/>
<line x1="119.9" y1="730.3" x2="124.7" y2="730.3" stroke="#664c32" stroke-width="1.6"/>
<line x1="119.9" y1="743.0" x2="124.7" y2="743.0" stroke="#664c32" stroke-width="1.6"/>
<circle cx="122.3" cy="736.5" r="5.0" fill="#664c32"/>
<line x1="150.5" y1="838.0" x2="150.5" y2="839.5" stroke="#664c32" stroke-width="1.6"/>
<line x1="148.1" y1="827.9" x2="152.9" y2="827.9" stroke="#664c32" stroke-width="1.6"/>
<line x1="148.1" y1="839.5" x2="152.9" y2="839.5" stroke="#664c32" stroke-width="1.6"/>
<circle cx="150.5" cy="833.0" r="5.0" fill="#664c32"/>
<line x1="172.5" y1="753.6" x2="172.5" y2="754.6" stroke="#664c32" stroke-width="1.6"/>
<line x1="172.5" y1="764.6" x2="172.5" y2="766.6" stroke="#664c32" stroke-width="1.6"/>
<line x1="170.1" y1="753.6" x2="174.9" y2="753.6" stroke="#664c32" stroke-width="1.6"/>
<line x1="170.1" y1="766.6" x2="174.9" y2="766.6" stroke="#664c32" stroke-width="1.6"/>
<circle cx="172.5" cy="759.6" r="5.0" fill="#664c32"/>
<line x1="203.8" y1="854.0" x2="203.8" y2="855.0" stroke="#664c32" stroke-width="1.6"/>
<line x1="203.8" y1="865.0" x2="203.8" y2="866.1" stroke="#664c32" stroke-width="1.6"/>
<line x1="201.4" y1="854.0" x2="206.2" y2="854.0" stroke="#664c32" stroke-width="1.6"/>
<line x1="201.4" y1="866.1" x2="206.2" y2="866.1" stroke="#664c32" stroke-width="1.6"/>
<circle cx="203.8" cy="860.0" r="5.0" fill="#664c32"/>
<line x1="256.8" y1="773.5" x2="256.8" y2="775.7" stroke="#664c32" stroke-width="1.6"/>
<line x1="256.8" y1="785.7" x2="256.8" y2="787.2" stroke="#664c32" stroke-width="1.6"/>
<line x1="254.4" y1="773.5" x2="259.2" y2="773.5" stroke="#664c32" stroke-width="1.6"/>
<line x1="254.4" y1="787.2" x2="259.2" y2="787.2" stroke="#664c32" stroke-width="1.6"/>
<circle cx="256.8" cy="780.7" r="5.0" fill="#664c32"/>
<line x1="510.6" y1="669.4" x2="510.6" y2="673.3" stroke="#664c32" stroke-width="1.6"/>
<line x1="510.6" y1="683.3" x2="510.6" y2="692.3" stroke="#664c32" stroke-width="1.6"/>
<line x1="508.2" y1="669.4" x2="513.0" y2="669.4" stroke="#664c32" stroke-width="1.6"/>
<line x1="508.2" y1="692.3" x2="513.0" y2="692.3" stroke="#664c32" stroke-width="1.6"/>
<circle cx="510.6" cy="678.3" r="5.0" fill="#664c32"/>
<line x1="122.3" y1="750.5" x2="122.3" y2="752.4" stroke="#4b7e18" stroke-width="1.6"/>
<line x1="119.9" y1="752.4" x2="124.7" y2="752.4" stroke="#4b7e18" stroke-width="1.6"/>
<polygon points="117.3,741.0 127.3,741.0 122.3,750.5" fill="#4b7e18"/>
<line x1="150.5" y1="844.0" x2="150.5" y2="846.0" stroke="#4b7e18" stroke-width="1.6"/>
<line x1="148.1" y1="846.0" x2="152.9" y2="846.0" stroke="#4b7e18" stroke-width="1.6"/>
<polygon points="145.5,834.5 155.5,834.5 150.5,844.0" fill="#4b7e18"/>
<line x1="172.5" y1="757.0" x2="172.5" y2="758.5" stroke="#4b7e18" stroke-width="1.6"/>
<line x1="170.1" y1="758.5" x2="174.9" y2="758.5" stroke="#4b7e18" stroke-width="1.6"/>
<polygon points="167.5,747.5 177.5,747.5 172.5,757.0" fill="#4b7e18"/>
<line x1="203.8" y1="844.3" x2="203.8" y2="845.5" stroke="#4b7e18" stroke-width="1.6"/>
<line x1="203.8" y1="855.5" x2="203.8" y2="856.5" stroke="#4b7e18" stroke-width="1.6"/>
<line x1="201.4" y1="844.3" x2="206.2" y2="844.3" stroke="#4b7e18" stroke-width="1.6"/>
<line x1="201.4" y1="856.5" x2="206.2" y2="856.5" stroke="#4b7e18" stroke-width="1.6"/>
<polygon points="198.8,846.0 208.8,846.0 203.8,855.5" fill="#4b7e18"/>
<line x1="256.8" y1="795.4" x2="256.8" y2="798.5" stroke="#4b7e18" stroke-width="1.6"/>
<line x1="254.4" y1="798.5" x2="259.2" y2="798.5" stroke="#4b7e18" stroke-width="1.6"/>
<polygon points="251.8,785.9 261.8,785.9 256.8,795.4" fill="#4b7e18"/>
<line x1="510.6" y1="643.1" x2="510.6" y2="649.0" stroke="#4b7e18" stroke-width="1.6"/>
<line x1="510.6" y1="659.0" x2="510.6" y2="666.5" stroke="#4b7e18" stroke-width="1.6"/>
<line x1="508.2" y1="643.1" x2="513.0" y2="643.1" stroke="#4b7e18" stroke-width="1.6"/>
<line x1="508.2" y1="666.5" x2="513.0" y2="666.5" stroke="#4b7e18" stroke-width="1.6"/>
<polygon points="505.6,649.5 515.6,649.5 510.6,659.0" fill="#4b7e18"/>
<line x1="91.0" y1="795.6" x2="742.0" y2="795.6" stroke="#000" stroke-width="1.3"/>
<rect x="147.7" y="442.5" width="11" height="11" fill="#000"/>
<line x1="128.6" y1="474" x2="176" y2="474" stroke="#6e2a55" stroke-width="1.6" stroke-dasharray="7 4 1.5 4"/>
<rect x="148.5" y="469.5" width="9" height="9" fill="none" stroke="#6e2a55" stroke-width="1.15"/>
<line x1="128.6" y1="500" x2="176" y2="500" stroke="#766634" stroke-width="1.6" stroke-dasharray="4.6 5.3 1.5 5.3"/>
<polygon points="151.6,495.4 154.6,495.4 154.6,498.5 157.7,498.5 157.7,501.5 154.6,501.5 154.6,504.6 151.6,504.6 151.6,501.5 148.5,501.5 148.5,498.5 151.6,498.5" fill="none" stroke="#766634" stroke-width="1.1"/>
<line x1="128.6" y1="526" x2="176" y2="526" stroke="#664c32" stroke-width="1.6" stroke-dasharray="4.6 5.3 1.5 5.3"/>
<circle cx="153.1" cy="526.0" r="5.0" fill="#664c32"/>
<line x1="128.6" y1="552" x2="176" y2="552" stroke="#4b7e18" stroke-width="1.6" stroke-dasharray="4.6 5.3 1.5 5.3"/>
<polygon points="148.1,547.5 158.1,547.5 153.1,557.0" fill="#4b7e18"/>
<text x="186.7" y="454.3" font-size="19">CMS</text>
<text x="186.7" y="479.6" font-size="18.8">Pythia 6.428 391</text>
<text x="186.7" y="505.6" font-size="18.8">Pythia 6.428 393</text>
<text x="186.7" y="531.6" font-size="18.8">Pythia 6.428 394</text>
<text x="186.7" y="557.6" font-size="18.8">Pythia 6.428 395</text>
<text x="103.3" y="29" font-size="24.3">13000 GeV pp</text>
<text x="730.5" y="29" font-size="24.3" text-anchor="end">Z+Jet</text>
<text x="101.4" y="86.5" font-size="24.3">CMS, 13 TeV, AK8 jets, Z+jet region, 408 &lt;p</text>
<text x="573.5" y="100.5" font-size="16">T</text>
<text x="574" y="71.6" font-size="15">{jet</text>
<text x="595" y="86.5" font-size="24.3">}&lt; 1500 GeV</text>
<text x="70.8" y="106.6" font-size="22" text-anchor="end">10</text>
<text x="71.0" y="96.9" font-size="15">2</text>
<text x="79.4" y="205.0" font-size="22" text-anchor="end">10</text>
<text x="80.0" y="303.6" font-size="22" text-anchor="end">1</text>
<text x="65.6" y="406.2" font-size="22" text-anchor="end">10</text>
<text x="64.2" y="396.0" font-size="15">−</text>
<text x="71.2" y="396.0" font-size="15">1</text>
<text x="62.2" y="506.2" font-size="22" text-anchor="end">10</text>
<text x="61.1" y="496.0" font-size="15">−</text>
<text x="70.7" y="496.0" font-size="15">2</text>
<text x="62.2" y="606.2" font-size="22" text-anchor="end">10</text>
<text x="61.1" y="595.5" font-size="15">−</text>
<text x="70.7" y="595.5" font-size="15">3</text>
<text x="77" y="683" font-size="24" text-anchor="end">2</text>
<text x="77" y="805" font-size="24" text-anchor="end">1</text>
<text x="77" y="925" font-size="24" text-anchor="end">0.5</text>
<text x="748" y="683" font-size="24">2</text>
<text x="748" y="805" font-size="24">1</text>
<text x="748" y="925" font-size="24">0.5</text>
<text x="104" y="978" font-size="24" text-anchor="middle">0</text>
<text x="417" y="978" font-size="24" text-anchor="middle">0.5</text>
<text x="730.5" y="978" font-size="24" text-anchor="middle">1</text>
<text x="742.5" y="1007" font-size="26" text-anchor="end">pTD2</text>
<text x="334" y="603.8" font-size="15.8" fill="#999" style="fill:#999">(CMS_2021_I1920187)</text>
<g transform="translate(759.5,255) rotate(-90)"><text x="0" y="0" font-size="18.7" style="fill:#6e6e6e">Rivet 4.1.0, ≥ 100k events</text></g>
<g transform="translate(762,628) rotate(-90)"><text x="0" y="0" font-size="19" style="fill:#6e6e6e">mcplots.cern.ch [arXiv:2401.10621]</text></g>
<g transform="translate(36,847) rotate(-90)"><text x="0" y="0" font-size="18">Ratio to CMS</text></g>
<g transform="rotate(-90)">
<text x="-267" y="27.7" font-size="24">#</text>
<line x1="-252.5" y1="21" x2="-143" y2="21" stroke="#000" stroke-width="2"/>
<text x="-201.5" y="18" font-size="24">1</text>
<text x="-246.5" y="42.6" font-size="25">d N /</text>
<text x="-182.5" y="42.6" font-size="25">d p</text>
<text x="-152.2" y="55.6" font-size="16">T</text>
<text x="-142" y="27.7" font-size="24">#</text>
<line x1="-126" y1="21" x2="-35" y2="21" stroke="#000" stroke-width="2"/>
<text x="-96" y="17.3" font-size="25">d</text>
<text x="-82.5" y="6" font-size="15">2</text>
<text x="-75.5" y="17.3" font-size="25">N</text>
<text x="-122" y="43.5" font-size="25">d p</text>
<text x="-89" y="56.7" font-size="16">T</text>
<text x="-65" y="43.5" font-size="25">d</text>
<text x="-48.2" y="43.5" font-size="25">λ</text>
</g>
</svg></body></html>
